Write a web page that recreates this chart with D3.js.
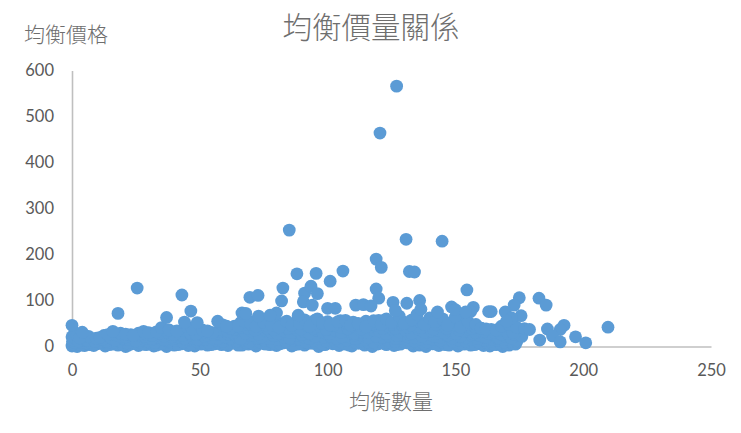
<!DOCTYPE html>
<html lang="zh-Hant">
<head>
  <meta charset="UTF-8">
  <title>均衡價量關係</title>
  <script src="https://d3js.org/d3.v7.min.js"></script>
  <style>
    body { margin: 0; background: #fff; }
    .axis path { stroke: #bfbfbf; stroke-width: 1.6px; fill: none; }
    .axis text { font-family: Lato, sans-serif; font-size: 16.5px; fill: #595959; }
    .label { font-family: "Noto Sans CJK TC", sans-serif; fill: #6e6e6e; font-weight: 300; }
    .dot { fill: #5b9bd5; }
  </style>
</head>
<body>
<svg id="chart" width="741" height="433"></svg>
<script>
  const xTicks = [0, 50, 100, 150, 200, 250];
  const yTicks = [0, 100, 200, 300, 400, 500, 600];

  // points standing clear of the band
  const outerQty = [127, 120.5, 85, 130.7, 144.8, 119, 121, 132, 134, 106, 88, 95.5, 25.5, 43, 69.6, 72.8, 82.5, 91, 93.5, 96,
    101, 119, 120, 82, 90.5, 154.5, 46.5, 18, 37, 94, 125.6, 126.5, 131, 136, 136.5, 148.5, 150, 157, 156, 143,
    154, 164, 175, 182.7, 185.5, 173, 169.5, 175.7, 172, 170, 209.7, 192.5, 191, 186, 188, 197, 201, 191, 183, 179,
    0, 4, 16, 44, 49, 53, 57, 60.5, 66.5, 68, 73, 80, 77.5, 88.5, 100, 103, 111, 114, 117, 163];
  const outerPrice = [566, 464, 253, 233, 229, 190, 172, 163, 162, 164, 158, 159, 127, 112, 107, 111, 127, 116, 131, 115,
    142, 125, 105, 99, 97, 123, 77, 72, 63, 90, 96, 78, 94, 100, 81, 86, 80, 85, 76, 75,
    75, 76, 106, 105, 90, 90, 75, 67, 62, 55, 42, 46, 37, 38, 23, 21, 8, 10, 14, 37,
    46, 31, 33, 53, 52, 34, 55, 44, 73, 72, 66, 73, 68, 68, 83, 83, 90, 91, 88, 76];

  // dense band, top row
  const highQty = [1, 2, 3, 11, 14, 19, 21, 24, 28, 30, 33, 35, 38, 41, 45, 47, 51, 55, 59, 62,
    65, 67, 70, 72, 75, 78, 81, 84, 86, 89, 91, 93, 96, 98, 101, 104, 107, 109, 112, 115,
    118, 121, 123, 125, 128, 130, 133, 135, 138, 140, 142, 145, 147, 150, 152, 155, 158, 160, 162, 166,
    168, 171, 174, 177];
  const highPrice = [30, 24, 19, 20, 26, 29, 27, 24, 33, 30, 32, 41, 36, 34, 43, 38, 36, 30, 47, 40,
    45, 56, 50, 44, 52, 47, 42, 55, 46, 50, 58, 44, 60, 52, 47, 54, 57, 46, 50, 43,
    56, 48, 60, 52, 66, 50, 58, 70, 48, 62, 54, 60, 46, 64, 42, 53, 48, 40, 38, 36,
    44, 48, 42, 39];

  // crest of the band in the busy middle
  const crestQty = [63.5, 66, 68.5, 71, 73.5, 76, 78.5, 81, 83.5, 86, 88, 90.5, 93, 95, 97.5, 100, 102.5, 105, 107.5, 110,
    112.5, 115, 117.5, 120, 122.5, 125, 127.5, 130, 132.5, 135, 137.5, 140, 142.5, 145, 147.5, 150, 152.5, 155, 157.5, 160];
  const crestPrice = [44, 52, 48, 54, 50, 46, 55, 49, 53, 47, 56, 52, 48, 57, 51, 54, 47, 56, 50, 53,
    46, 55, 49, 57, 52, 48, 58, 53, 47, 56, 50, 54, 48, 57, 51, 46, 53, 49, 44, 40];

  // dense band, upper fill
  const fillQty = [29, 31.5, 34, 37.5, 40, 43, 46, 48.5, 52.5, 55, 58, 61, 63.5, 66, 69, 71.5, 74, 76.5, 79, 82,
    84.5, 87, 89.5, 92, 94.5, 97, 99.5, 102.5, 105, 108, 110.5, 113, 116, 118.5, 121.5, 124, 126.5, 129, 131.5, 134,
    136.5, 139, 141.5, 144, 146.5, 149, 151.5, 154, 156.5, 159, 161.5, 164, 167, 170, 172.5];
  const fillPrice = [27, 25, 29, 30, 26, 35, 31, 28, 30, 26, 38, 33, 37, 42, 39, 36, 43, 40, 37, 44,
    39, 41, 38, 45, 40, 43, 37, 46, 42, 39, 44, 38, 41, 47, 40, 44, 39, 48, 42, 45,
    41, 46, 38, 44, 40, 47, 36, 43, 39, 41, 33, 37, 35, 33, 31];

  // dense band, shoulder between the fill rows
  const shoulderQty = [6.5, 9.5, 12.5, 15.5, 18.5, 21, 23, 26, 28.5, 31, 33, 36, 38.5, 41, 43.5, 46, 48.5, 51, 53, 56,
    58.5, 61, 63, 65.5, 68, 70.5, 73, 75.5, 78, 80.5, 83, 85.5, 88, 90.5, 93, 95.5, 98, 100.5, 103, 105.5,
    108, 110.5, 113, 115.5, 118, 120.5, 123, 125.5, 128, 130.5, 133, 135.5, 138, 140.5, 143, 145.5, 148, 150.5, 153, 155.5,
    158, 160.5, 163, 165.5, 168, 170.5, 173];
  const shoulderPrice = [22, 18, 24, 27, 23, 21, 26, 29, 22, 25, 28, 23, 27, 31, 24, 29, 26, 32, 25, 28,
    33, 27, 30, 35, 29, 32, 27, 36, 31, 28, 34, 30, 37, 33, 29, 36, 32, 28, 35, 31,
    38, 29, 34, 30, 36, 33, 28, 37, 32, 35, 29, 38, 31, 34, 36, 30, 35, 28, 33, 37,
    30, 32, 28, 30, 26, 29, 27];

  // dense band, middle row
  const midQty = [0, 0.5, 1.5, 2.5, 4, 6, 9, 12, 15, 17, 20, 22.5, 25, 27.5, 31, 33.5, 36, 39, 42, 44,
    46.5, 49, 52, 54.5, 57, 60, 63, 66, 68.5, 71, 74, 76.5, 79, 82, 85, 87.5, 90, 92.5, 95, 97.5,
    100, 103, 105.5, 108, 110.5, 113, 116, 119, 122, 124.5, 127, 129.5, 132, 134.5, 137, 139.5, 142, 144.5, 147, 149.5,
    152, 154.5, 157, 159.5, 162, 164.5, 167, 169.5, 172, 176];
  const midPrice = [21, 14, 17, 12, 18, 13, 11, 16, 20, 14, 19, 15, 12, 22, 17, 24, 15, 21, 26, 18,
    24, 16, 22, 19, 27, 21, 29, 17, 31, 25, 20, 33, 24, 28, 19, 32, 26, 35, 22, 30,
    27, 36, 21, 33, 25, 31, 38, 23, 29, 34, 24, 37, 27, 32, 22, 36, 28, 33, 25, 30,
    22, 34, 27, 24, 20, 26, 19, 23, 18, 22];

  // dense band, second row up
  const secondQty = [4.5, 7.5, 10.5, 13.5, 16, 18.5, 21, 24, 26.5, 29, 31.5, 34, 37, 39.5, 42, 44.5, 47, 49.5, 52, 54.5,
    57, 60, 62, 64.5, 67, 70, 73, 75, 77.5, 80.5, 83, 85.5, 88, 90.5, 93, 96, 98.5, 101, 103.5, 106,
    108.5, 111, 113.5, 116, 119, 121.5, 124, 126.5, 129, 131.5, 134, 136.5, 139, 141.5, 144, 146.5, 149, 151.5, 154, 156.5,
    159, 161.5, 164, 166.5, 169, 171.5, 174];
  const secondPrice = [14, 9, 16, 12, 17, 19, 15, 18, 13, 19, 16, 20, 14, 17, 20, 15, 19, 22, 16, 20,
    17, 23, 18, 21, 16, 24, 19, 22, 17, 25, 20, 18, 24, 21, 17, 26, 20, 23, 18, 25,
    21, 17, 24, 19, 26, 20, 23, 18, 25, 21, 19, 26, 17, 23, 20, 25, 18, 22, 19, 24,
    17, 20, 16, 18, 15, 17, 14];

  // dense band, lower fill
  const lowerQty = [0.2, 1.2, 2.2, 3.5, 5.5, 8, 11, 14, 16.5, 19, 21.5, 24, 26.5, 29.5, 32.5, 35, 37.5, 40.5, 43.5, 46,
    48.5, 51, 53.5, 56.5, 59, 61.5, 64.5, 67, 69.5, 72.5, 75.5, 78, 80.5, 83.5, 86.5, 89, 91.5, 94.5, 97, 99.5,
    102.5, 105, 107.5, 110, 112.5, 115, 118, 120.5, 123.5, 126.5, 129, 131.5, 134, 136.5, 139, 141.5, 144, 146.5, 149, 151.5,
    154, 156.5, 159, 161.5, 164, 166.5, 169, 171.5, 174];
  const lowerPrice = [11, 9, 13, 10, 8, 12, 10, 9, 13, 11, 8, 14, 10, 12, 9, 15, 11, 13, 10, 14,
    12, 15, 9, 13, 11, 16, 12, 14, 10, 17, 13, 11, 15, 12, 14, 16, 10, 13, 17, 12,
    15, 11, 14, 18, 12, 15, 10, 16, 13, 11, 17, 14, 12, 16, 10, 15, 13, 17, 11, 14,
    12, 15, 10, 13, 11, 14, 10, 12, 11];

  // dense band, just above the bottom row
  const baseQty = [1.5, 4, 6, 8.5, 11.5, 14.5, 17, 19.5, 22, 25, 27.5, 30.5, 33, 35.5, 38.5, 41.5, 44, 47, 49.5, 52,
    54.5, 57.5, 60, 62.5, 65, 68, 70.5, 73.5, 76, 79, 81.5, 84.5, 87, 89.5, 92.5, 95, 98, 100.5, 103.5, 106,
    108.5, 111, 113.5, 116, 119, 121.5, 124.5, 127, 130, 132.5, 135, 137.5, 140, 142.5, 145, 147.5, 150, 152.5, 155, 157.5,
    160, 162.5, 165, 167.5, 170, 172.5];
  const basePrice = [8, 3, 7, 2, 8, 4, 9, 6, 3, 8, 5, 9, 3, 7, 9, 4, 8, 5, 9, 7,
    4, 9, 6, 8, 3, 9, 7, 10, 5, 8, 6, 10, 4, 8, 7, 9, 5, 10, 6, 8,
    3, 9, 7, 10, 5, 8, 9, 4, 10, 6, 8, 7, 10, 5, 9, 3, 8, 6, 9, 4,
    7, 8, 5, 7, 6, 7];

  // dense band, bottom row
  const lowQty = [0, 0.3, 1, 2, 3, 5, 7, 10, 13, 16, 18, 21, 23.5, 26, 29, 32, 34.5, 37, 40, 43,
    45.5, 48, 50.5, 53, 56, 58.5, 61, 64, 66.5, 69, 72, 75, 77.5, 80, 83, 86, 88.5, 91, 94, 96.5,
    99, 102, 104.5, 107, 109.5, 112, 114.5, 117.5, 120, 123, 126, 128.5, 131, 133.5, 136, 138.5, 141, 143.5, 146, 148.5,
    151, 153.5, 156, 158.5, 161, 163.5, 166, 168.5, 171, 173.5];
  const lowPrice = [1, 6, 3, 0, 5, 2, 4, 6, 1, 5, 3, 0, 6, 2, 4, 1, 5, 0, 3, 6,
    2, 1, 5, 3, 6, 4, 2, 7, 3, 5, 1, 6, 4, 2, 8, 1, 5, 3, 7, 0,
    4, 6, 2, 5, 1, 7, 3, 0, 6, 4, 2, 5, 8, 1, 3, 0, 6, 2, 4, 7,
    1, 5, 3, 6, 2, 1, 4, 0, 3, 5];

  const quantity = [...lowQty, ...baseQty, ...lowerQty, ...secondQty, ...midQty, ...shoulderQty, ...fillQty, ...crestQty, ...highQty, ...outerQty];
  const price = [...lowPrice, ...basePrice, ...lowerPrice, ...secondPrice, ...midPrice, ...shoulderPrice, ...fillPrice, ...crestPrice, ...highPrice, ...outerPrice];

  const x = d3.scaleLinear().domain([0, 250]).range([72, 711]);
  const y = d3.scaleLinear().domain([0, 600]).range([346.5, 70.5]);

  const svg = d3.select("#chart");

  svg.append("g")
    .attr("class", "axis")
    .attr("transform", "translate(0,346.5)")
    .call(d3.axisBottom(x).tickValues(xTicks).tickSize(0).tickPadding(18).tickFormat(d3.format("d")));

  svg.append("g")
    .attr("class", "axis")
    .attr("transform", "translate(72,0)")
    .call(d3.axisLeft(y).tickValues(yTicks).tickSize(0).tickPadding(18).tickFormat(d3.format("d")));

  svg.selectAll(".dot")
    .data(quantity)
    .enter().append("circle")
    .attr("class", "dot")
    .attr("cx", d => x(d))
    .attr("cy", (d, i) => y(price[i]))
    .attr("r", 6.4);

  svg.append("text").attr("class", "label")
    .attr("x", 371).attr("y", 38)
    .style("text-anchor", "middle").style("font-size", "29.5px")
    .text("均衡價量關係");

  svg.append("text").attr("class", "label")
    .attr("x", 24).attr("y", 42)
    .style("font-size", "21px")
    .text("均衡價格");

  svg.append("text").attr("class", "label")
    .attr("x", 391).attr("y", 409)
    .style("text-anchor", "middle").style("font-size", "21px")
    .text("均衡數量");
</script>
</body>
</html>
